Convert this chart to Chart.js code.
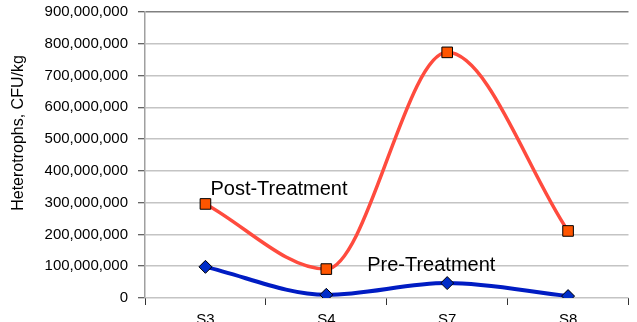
<!DOCTYPE html>
<html>
<head>
<meta charset="utf-8">
<script src="https://cdn.jsdelivr.net/npm/chart.js@4"></script>
<style>
  html, body { margin: 0; padding: 0; background: #fff; overflow: hidden; }
  #wrap { width: 637px; height: 322px; overflow: hidden; }
  #box { position: relative; width: 637px; height: 328px; }
</style>
</head>
<body>
<div id="wrap"><div id="box"><canvas id="chart"></canvas></div></div>
<script>
const categories = ['S3', 'S4', 'S7', 'S8'];
const postTreatment = [296000000, 91000000, 773000000, 211000000];
const preTreatment = [98000000, 10000000, 47000000, 6000000];
const yTitle = 'Heterotrophs, CFU/kg';

// series names drawn next to the lines, like the original
const seriesLabels = {
  id: 'seriesLabels',
  afterDatasetsDraw(chart) {
    const ctx = chart.ctx;
    const post = chart.getDatasetMeta(0).data;
    const pre = chart.getDatasetMeta(1).data;
    ctx.save();
    ctx.fillStyle = '#000';
    ctx.font = '20px "Liberation Sans", Arial, sans-serif';
    ctx.textAlign = 'left';
    ctx.textBaseline = 'alphabetic';
    ctx.fillText('Post-Treatment', post[0].x + 5, post[0].y - 9);
    ctx.fillText('Pre-Treatment', pre[2].x - 80, pre[2].y - 12);

    ctx.font = '16px "Liberation Sans", Arial, sans-serif';
    ctx.translate(19, 133);
    ctx.rotate(-Math.PI / 2);
    ctx.textAlign = 'center';
    ctx.textBaseline = 'middle';
    ctx.fillText(yTitle, 0, 0);
    ctx.restore();
  }
};

new Chart(document.getElementById('chart'), {
  type: 'line',
  data: {
    labels: categories,
    datasets: [
      {
        label: 'Post-Treatment',
        data: postTreatment,
        borderColor: 'rgb(255, 75, 62)',
        borderWidth: 3.5,
        cubicInterpolationMode: 'monotone',
        pointStyle: 'rect',
        pointRadius: 7.5,
        pointBackgroundColor: 'rgb(255, 85, 0)',
        pointBorderColor: '#000',
        pointBorderWidth: 1
      },
      {
        label: 'Pre-Treatment',
        data: preTreatment,
        borderColor: 'rgb(0, 28, 195)',
        borderWidth: 4,
        cubicInterpolationMode: 'monotone',
        pointStyle: 'rectRot',
        pointRadius: 6.5,
        pointBackgroundColor: 'rgb(0, 45, 200)',
        pointBorderColor: '#000',
        pointBorderWidth: 1
      }
    ]
  },
  plugins: [seriesLabels],
  options: {
    responsive: true,
    maintainAspectRatio: false,
    animation: false,
    layout: { padding: { top: 12, right: 2, left: 0, bottom: 0 } },
    plugins: {
      legend: { display: false },
      tooltip: { enabled: false }
    },
    scales: {
      x: {
        offset: true,
        afterFit(scale) {
          scale.height = 30;
          scale.paddingLeft = 0;
          scale.paddingRight = 0;
        },
        grid: {
          offset: true,
          drawOnChartArea: false,
          tickLength: 7,
          color: '#333',
          lineWidth: 1
        },
        border: { display: false },
        ticks: {
          color: '#000',
          padding: 6,
          font: { family: '"Liberation Sans", Arial, sans-serif', size: 15 }
        }
      },
      y: {
        min: 0,
        max: 900000000,
        afterFit(scale) {
          scale.width = 145;
          scale.paddingTop = 0;
          scale.paddingBottom = 0;
        },
        grid: {
          color: ctx => (ctx.tick && ctx.tick.value === 900000000 ? '#808080' : '#c4c4c4'),
          lineWidth: 1.5,
          tickLength: 7,
          tickColor: '#333',
          tickWidth: 1
        },
        border: { display: true, color: '#a0a0a0', width: 1.5 },
        ticks: {
          stepSize: 100000000,
          color: '#000',
          padding: 10,
          font: { family: '"Liberation Sans", Arial, sans-serif', size: 15 },
          callback: value => value.toLocaleString('en-US')
        }
      }
    }
  }
});
</script>
</body>
</html>
